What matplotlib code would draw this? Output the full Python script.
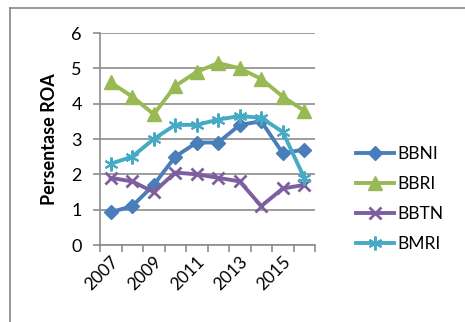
import matplotlib
matplotlib.use("Agg")
import matplotlib.pyplot as plt
from matplotlib.lines import Line2D
import numpy as np

# data
years = [2007, 2008, 2009, 2010, 2011, 2012, 2013, 2014, 2015, 2016]
tick_years = ['2007', '2009', '2011', '2013', '2015']
bbni = [0.93, 1.1, 1.7, 2.5, 2.9, 2.9, 3.4, 3.5, 2.6, 2.7]
bbri = [4.6, 4.2, 3.7, 4.5, 4.9, 5.15, 5.0, 4.7, 4.2, 3.8]
bbtn = [1.9, 1.8, 1.5, 2.05, 2.0, 1.9, 1.8, 1.1, 1.6, 1.7]
bmri = [2.3, 2.5, 3.0, 3.4, 3.4, 3.55, 3.65, 3.6, 3.2, 1.9]

plt.rcParams['font.family'] = ['Lato', 'DejaVu Sans']

fig = plt.figure(figsize=(4.65, 3.22), dpi=100)
fig.patch.set_facecolor('white')

# outer chart border (left and top edges visible)
fig.add_artist(Line2D([10/465, 10/465], [0, 1-8/322], transform=fig.transFigure,
                      color='#888888', lw=1.2))
fig.add_artist(Line2D([10/465, 1], [1-8/322, 1-8/322], transform=fig.transFigure,
                      color='#888888', lw=1.2))

ax = fig.add_axes([100/465, 1-245/322, 215/465, 212/322])

x = np.arange(len(years)) + 0.5
ax.plot(x, bbni, color='#4a7ebb', lw=2.8, marker='D', ms=7, label='BBNI', zorder=3)
ax.plot(x, bbri, color='#98b954', lw=2.8, marker='^', ms=10, label='BBRI', zorder=3)
ax.plot(x, bbtn, color='#7d5fa0', lw=2.8, marker='x', ms=8, mew=2, label='BBTN', zorder=3)
ax.plot(x, bmri, color='#46aac5', lw=2.8, marker=(6, 2, 0), ms=10, mew=1.5, label='BMRI', zorder=3)

ax.set_xlim(0, len(years))
ax.set_ylim(0, 6)
ax.set_yticks(range(7))
ax.yaxis.grid(True, color='#8c8c8c', lw=1.2)
ax.set_axisbelow(True)

ax.set_xticks(range(len(years) + 1))
ax.set_xticklabels([])
ax.set_xticks(x[::2], minor=True)
ax.set_xticklabels(tick_years, minor=True, rotation=45, ha='right', rotation_mode='anchor')
ax.tick_params(axis='x', which='major', length=5, color='#8c8c8c', width=1.2)
ax.tick_params(axis='x', which='minor', length=0, labelsize=12.5, pad=6)
ax.tick_params(axis='y', length=5, color='#8c8c8c', width=1.2, labelsize=13, pad=8)

for s in ['top', 'right']:
    ax.spines[s].set_visible(False)
for s in ['left', 'bottom']:
    ax.spines[s].set_color('#8c8c8c')
    ax.spines[s].set_linewidth(1.2)

ax.set_ylabel('Persentase ROA', fontsize=13, fontweight='bold', labelpad=10)

ax.legend(loc='center left', bbox_to_anchor=(340/465, 1-199/322),
          bbox_transform=fig.transFigure, frameon=False, fontsize=12.5,
          handlelength=2.2, labelspacing=0.8, handletextpad=0.2)

fig.savefig('out.png', dpi=100)
